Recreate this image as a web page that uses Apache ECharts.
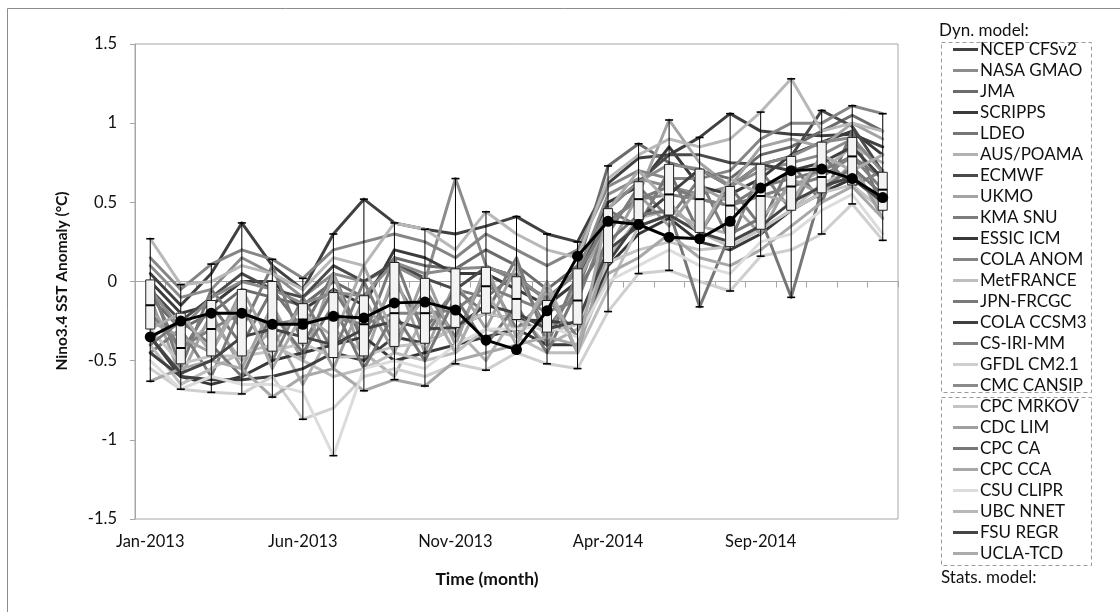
<!DOCTYPE html>
<html>
<head>
<meta charset="utf-8">
<script src="https://cdn.jsdelivr.net/npm/echarts@6/dist/echarts.min.js"></script>
<style>
  html, body { margin: 0; padding: 0; background: #fff; }
  #chart { width: 1120px; height: 612px; }
</style>
</head>
<body>
<div id="chart"></div>
<script>
// ---- categories ----
const months = ['Jan-2013','Feb-2013','Mar-2013','Apr-2013','May-2013','Jun-2013','Jul-2013','Aug-2013',
  'Sep-2013','Oct-2013','Nov-2013','Dec-2013','Jan-2014','Feb-2014','Mar-2014','Apr-2014','May-2014',
  'Jun-2014','Jul-2014','Aug-2014','Sep-2014','Oct-2014','Nov-2014','Dec-2014','Jan-2015'];

// ---- y axis range ----
const yMin = -1.5, yMax = 1.5, yStep = 0.5;

// ---- observed Nino3.4 anomaly (black line with dots) ----
const observed = [-0.35,-0.25,-0.20,-0.20,-0.27,-0.27,-0.22,-0.23,-0.135,-0.13,-0.18,-0.37,-0.43,-0.185,0.16,0.38,0.36,0.28,0.27,0.38,0.59,0.70,0.71,0.65,0.53];

// ---- ensemble spread per month (box & whisker) ----
const boxMin    = [-0.63,-0.68,-0.70,-0.71,-0.73,-0.87,-1.10,-0.69,-0.62,-0.66,-0.52,-0.56,-0.45,-0.52,-0.55,-0.19,0.05,0.07,-0.16,-0.06,0.16,-0.10,0.30,0.49,0.26];
const boxQ1     = [-0.30,-0.52,-0.47,-0.47,-0.44,-0.39,-0.48,-0.47,-0.41,-0.39,-0.29,-0.20,-0.24,-0.32,-0.27,0.12,0.39,0.42,0.31,0.22,0.33,0.45,0.56,0.61,0.45];
const boxMedian = [-0.15,-0.42,-0.30,-0.20,-0.27,-0.24,-0.23,-0.27,-0.20,-0.20,-0.18,-0.03,-0.11,-0.19,-0.12,0.37,0.52,0.55,0.52,0.48,0.54,0.60,0.66,0.79,0.58];
const boxQ3     = [0.01,-0.20,-0.12,-0.05,0.00,-0.14,-0.07,-0.09,0.12,0.02,0.08,0.09,0.03,-0.12,0.08,0.46,0.63,0.74,0.71,0.60,0.74,0.79,0.88,0.91,0.69];
const boxMax    = [0.27,-0.02,0.11,0.37,0.14,0.02,0.30,0.52,0.37,0.33,0.65,0.44,0.41,0.30,0.25,0.73,0.87,1.02,0.91,1.06,1.07,1.28,1.08,1.11,1.06];

// ---- dynamical models ----
const ncepCfsv2  = [0.05,-0.15,0.05,0.37,0.10,-0.05,0.30,0.52,0.37,0.33,0.30,0.35,0.41,0.30,0.25,0.62,0.78,0.80,0.91,1.06,0.95,0.93,0.92,0.93,0.85];
const nasaGmao   = [0.10,-0.10,-0.05,0.15,0.05,-0.10,0.05,0.00,0.10,0.00,0.65,0.10,0.00,-0.10,0.05,0.55,0.65,0.60,0.55,0.60,0.70,0.75,0.80,0.90,0.70];
const jma        = [-0.10,-0.30,-0.20,-0.05,-0.10,-0.15,0.00,-0.10,0.15,0.10,0.08,0.20,0.10,-0.05,0.10,0.73,0.87,0.75,0.70,0.65,0.80,0.85,0.95,1.05,0.95];
const scripps    = [0.00,-0.20,-0.15,0.00,0.00,-0.18,-0.05,-0.15,0.20,0.15,0.05,0.05,-0.05,-0.15,0.00,0.50,0.60,0.85,0.60,0.55,0.65,0.80,0.88,0.95,0.80];
const ldeo       = [-0.05,-0.45,-0.15,-0.40,-0.05,-0.30,0.05,-0.40,0.00,-0.30,-0.05,-0.10,0.05,-0.30,-0.05,0.45,0.35,0.70,0.30,0.60,0.35,0.75,0.50,0.95,0.45];
const ausPoama   = [-0.15,-0.45,-0.25,-0.50,-0.30,-0.65,-0.30,-0.45,-0.60,-0.20,-0.30,-0.50,-0.20,-0.40,-0.30,0.15,0.40,0.45,0.35,0.30,0.40,0.60,0.70,0.85,0.75];
const ecmwf      = [-0.05,-0.25,-0.10,0.05,-0.05,-0.10,0.10,0.00,0.12,0.02,-0.05,0.09,0.03,-0.12,0.08,0.46,0.63,0.80,0.80,0.75,0.74,0.79,1.08,0.98,0.69];
const ukmo       = [-0.10,-0.60,-0.20,-0.55,-0.15,-0.50,0.05,-0.50,0.05,-0.45,0.00,-0.30,0.10,-0.35,0.00,0.35,0.55,1.02,0.75,0.60,0.85,0.90,0.85,1.00,0.90];
const kmaSnu     = [-0.45,-0.30,-0.60,-0.15,-0.50,-0.10,-0.45,0.00,-0.40,-0.05,-0.35,0.05,-0.30,-0.10,-0.35,0.30,0.60,0.40,0.65,0.25,0.70,0.45,0.80,0.60,0.70];
const essicIcm   = [-0.35,-0.60,-0.65,-0.60,-0.50,-0.45,-0.40,-0.35,-0.50,-0.45,-0.40,-0.35,-0.30,-0.40,-0.40,0.10,0.30,0.40,0.25,0.20,0.30,0.45,0.56,0.65,0.50];
const colaAnom   = [0.15,-0.05,0.11,0.20,0.14,0.02,0.20,0.25,0.30,0.25,0.15,0.30,0.20,0.10,0.20,0.60,0.70,0.65,0.65,0.70,0.90,1.00,1.00,1.11,1.06];
const metFrance  = [-0.40,-0.65,-0.55,-0.45,-0.40,-0.50,-0.60,-0.55,-0.45,-0.50,-0.45,-0.30,-0.35,-0.45,-0.45,-0.05,0.35,0.42,0.31,0.22,0.33,0.45,0.62,0.70,0.45];
const jpnFrcgc   = [0.00,-0.55,-0.05,-0.30,0.10,-0.40,-0.05,-0.35,0.15,-0.35,-0.05,-0.20,0.15,-0.40,0.05,0.38,0.52,0.60,0.52,0.48,0.60,0.65,0.70,0.79,0.65];
const colaCcsm3  = [-0.45,-0.60,-0.62,-0.62,-0.60,-0.55,-0.45,-0.50,-0.35,-0.39,-0.29,-0.20,-0.24,-0.25,-0.27,0.12,0.39,0.55,0.71,0.60,0.74,0.70,0.75,0.85,0.65];
const csIriMm    = [-0.20,-0.42,-0.30,-0.20,-0.27,-0.24,-0.23,-0.27,-0.20,-0.20,-0.18,-0.03,-0.11,-0.19,-0.12,0.37,0.52,0.55,0.52,0.48,0.54,0.60,0.66,0.79,0.58];
const gfdlCm21   = [-0.55,-0.68,-0.70,-0.71,-0.60,-0.87,-0.80,-0.60,-0.55,-0.60,-0.52,-0.56,-0.45,-0.52,-0.55,-0.19,0.05,0.07,0.00,-0.06,0.16,0.20,0.30,0.49,0.26];
const cmcCansip  = [-0.05,-0.30,-0.10,0.00,-0.05,-0.14,-0.07,-0.09,0.12,0.05,0.08,0.09,0.03,-0.12,0.08,0.46,0.63,0.74,0.71,0.60,0.74,0.79,0.88,0.91,0.69];

// ---- statistical models ----
const cpcMrkov   = [-0.30,-0.52,-0.47,-0.47,-0.44,-0.39,-0.48,-0.47,-0.41,-0.39,-0.29,-0.20,-0.24,-0.32,-0.27,0.12,0.20,0.25,0.20,0.22,0.33,0.45,0.56,0.61,0.45];
const cdcLim     = [-0.25,-0.35,-0.45,-0.05,-0.40,-0.15,-0.55,-0.10,-0.45,0.05,-0.40,0.10,-0.35,-0.05,-0.45,0.20,0.55,0.35,0.60,0.50,0.30,0.65,0.55,0.75,0.40];
const cpcCa      = [-0.40,-0.25,-0.40,-0.60,-0.20,-0.45,-0.15,-0.55,-0.20,-0.50,-0.10,-0.40,-0.15,-0.45,-0.05,0.25,0.42,0.45,-0.16,0.30,0.40,-0.10,0.58,0.72,0.55];
const cpcCca     = [-0.63,-0.55,-0.50,-0.55,-0.73,-0.60,-0.55,-0.69,-0.62,-0.66,-0.50,-0.45,-0.40,-0.35,-0.40,0.05,0.15,0.30,0.15,0.10,0.20,0.35,0.50,0.60,0.40];
const csuClipr   = [-0.50,-0.68,-0.60,-0.65,-0.65,-0.70,-1.10,-0.55,-0.50,-0.55,-0.40,-0.30,-0.30,-0.28,-0.35,0.00,0.10,0.20,0.10,0.05,0.25,0.30,0.45,0.55,0.30];
const ubcNnet    = [0.27,-0.02,0.00,0.10,0.05,-0.05,0.15,0.10,0.37,0.33,0.20,0.44,0.30,0.20,0.15,0.65,0.80,0.90,0.85,0.90,1.07,1.28,0.95,1.00,0.95];
const fsuRegr    = [-0.35,-0.58,-0.50,-0.35,-0.30,-0.35,-0.40,-0.30,-0.25,-0.30,-0.29,-0.15,-0.20,-0.30,-0.25,0.20,0.35,0.42,0.31,0.25,0.35,0.50,0.60,0.66,0.50];
const uclaTcd    = [-0.30,-0.20,-0.45,-0.10,-0.55,-0.20,-0.35,0.10,-0.35,-0.10,-0.45,-0.05,-0.40,0.00,-0.45,0.45,0.70,0.50,0.30,0.65,0.55,0.50,0.80,0.70,0.80];

const modelNames = ['NCEP CFSv2','NASA GMAO','JMA','SCRIPPS','LDEO','AUS/POAMA','ECMWF','UKMO','KMA SNU',
  'ESSIC ICM','COLA ANOM','MetFRANCE','JPN-FRCGC','COLA CCSM3','CS-IRI-MM','GFDL CM2.1','CMC CANSIP',
  'CPC MRKOV','CDC LIM','CPC CA','CPC CCA','CSU CLIPR','UBC NNET','FSU REGR','UCLA-TCD'];
const modelValues = [ncepCfsv2, nasaGmao, jma, scripps, ldeo, ausPoama, ecmwf, ukmo, kmaSnu,
  essicIcm, colaAnom, metFrance, jpnFrcgc, colaCcsm3, csIriMm, gfdlCm21, cmcCansip,
  cpcMrkov, cdcLim, cpcCa, cpcCca, csuClipr, ubcNnet, fsuRegr, uclaTcd];

// grey shade of each model's line
const modelColors = ['#404040','#8c8c8c','#6b6b6b','#3b3b3b','#767676','#b2b2b2','#4a4a4a','#a3a3a3','#7d7d7d',
  '#383838','#858585','#bdbdbd','#7a7a7a','#404040','#808080','#cfcfcf','#8a8a8a',
  '#c4c4c4','#a0a0a0','#777777','#a8a8a8','#dcdcdc','#b8b8b8','#454545','#ababab'];

const FONT = 'Lato, "Liberation Sans", sans-serif';
const AXIS_GREY = '#a6a6a6';

const boxData = months.map((m, i) => [i, boxMin[i], boxQ1[i], boxMedian[i], boxQ3[i], boxMax[i]]);

const modelSeries = modelNames.map((name, k) => ({
  name: name,
  type: 'line',
  data: modelValues[k],
  symbol: 'none',
  silent: true,
  z: 2,
  color: modelColors[k],
  itemStyle: { color: modelColors[k] },
  lineStyle: { color: modelColors[k], width: 3, cap: 'round', join: 'round' },
  animation: false
}));

// whiskers, box and median drawn at each month through the axis scales
function renderBox(params, api) {
  const i = api.value(0);
  const x = api.coord([i, 0])[0];
  const yLo = api.coord([i, api.value(1)])[1];
  const yQ1 = api.coord([i, api.value(2)])[1];
  const yMed = api.coord([i, api.value(3)])[1];
  const yQ3 = api.coord([i, api.value(4)])[1];
  const yHi = api.coord([i, api.value(5)])[1];
  const hw = 4.5, cw = 4;
  const black = '#000';
  return {
    type: 'group',
    children: [
      { type: 'line', shape: { x1: x, y1: yHi, x2: x, y2: yLo }, style: { stroke: black, lineWidth: 1 } },
      { type: 'line', shape: { x1: x - cw, y1: yHi, x2: x + cw, y2: yHi }, style: { stroke: black, lineWidth: 1.6 } },
      { type: 'line', shape: { x1: x - cw, y1: yLo, x2: x + cw, y2: yLo }, style: { stroke: black, lineWidth: 1.6 } },
      { type: 'rect', shape: { x: x - hw, y: yQ3, width: hw * 2, height: yQ1 - yQ3 },
        style: { fill: '#f3f3f3', stroke: '#222', lineWidth: 1 } },
      { type: 'line', shape: { x1: x - hw, y1: yMed, x2: x + hw, y2: yMed }, style: { stroke: black, lineWidth: 2 } }
    ]
  };
}

const chart = echarts.init(document.getElementById('chart'), null, { renderer: 'canvas' });

chart.setOption({
  animation: false,
  backgroundColor: '#fff',
  textStyle: { fontFamily: FONT },
  grid: {
    left: 135, right: 222, top: 44, bottom: 93,
    show: true, borderColor: AXIS_GREY, borderWidth: 1,
    outerBoundsMode: 'none'
  },
  legend: {
    data: modelNames,
    orient: 'vertical',
    left: 953,
    top: 39,
    padding: 0,
    itemGap: 0,
    itemWidth: 25,
    itemHeight: 3,
    icon: 'rect',
    selectedMode: false,
    textStyle: { fontFamily: FONT, fontSize: 17, color: '#111', lineHeight: 21, padding: [0, 0, 0, -3] }
  },
  xAxis: {
    type: 'category',
    data: months,
    boundaryGap: true,
    axisLine: { show: true, lineStyle: { color: AXIS_GREY, width: 1 } },
    axisTick: { show: true, interval: 0, length: 6, lineStyle: { color: AXIS_GREY } },
    axisLabel: { interval: 4, fontFamily: FONT, fontSize: 16.5, color: '#111', margin: 14 },
    splitLine: { show: false }
  },
  yAxis: {
    type: 'value',
    min: yMin, max: yMax, interval: yStep,
    axisLine: { show: true, lineStyle: { color: AXIS_GREY, width: 1 } },
    axisTick: { show: true, length: 5, lineStyle: { color: AXIS_GREY } },
    axisLabel: { fontFamily: FONT, fontSize: 16.5, color: '#111', margin: 18 },
    splitLine: { show: false }
  },
  graphic: [
    { type: 'polyline', silent: true, shape: { points: [[7.5, 612], [7.5, 8.5], [1120, 8.5]] },
      style: { stroke: '#8c8c8c', lineWidth: 1, fill: null } },
    { type: 'rect', silent: true, shape: { x: 941.5, y: 42.5, width: 150, height: 350 },
      style: { fill: null, stroke: '#9a9a9a', lineWidth: 1, lineDash: [4, 3] } },
    { type: 'rect', silent: true, shape: { x: 941.5, y: 397.5, width: 150, height: 168 },
      style: { fill: null, stroke: '#9a9a9a', lineWidth: 1, lineDash: [4, 3] } },
    { type: 'text', silent: true, x: 939, y: 31,
      style: { text: 'Dyn. model:', font: '17px ' + FONT, fill: '#111',
        textAlign: 'left', textVerticalAlign: 'middle', align: 'left', verticalAlign: 'middle' } },
    { type: 'text', silent: true, x: 941, y: 578,
      style: { text: 'Stats. model:', font: '17px ' + FONT, fill: '#111',
        textAlign: 'left', textVerticalAlign: 'middle', align: 'left', verticalAlign: 'middle' } },
    { type: 'text', silent: true, x: 487, y: 579,
      style: { text: 'Time (month)', font: 'bold 17.5px ' + FONT, fill: '#111',
        textAlign: 'center', textVerticalAlign: 'middle', align: 'center', verticalAlign: 'middle' } },
    { type: 'text', silent: true, x: 62, y: 281, rotation: Math.PI / 2,
      style: { text: 'Nino3.4 SST Anomaly (°C)', font: 'bold 15.5px ' + FONT, fill: '#111',
        textAlign: 'center', textVerticalAlign: 'middle', align: 'center', verticalAlign: 'middle' } }
  ],
  series: modelSeries.concat([
    {
      name: 'spread',
      type: 'custom',
      data: boxData,
      renderItem: renderBox,
      encode: { x: 0, y: [1, 2, 3, 4, 5] },
      silent: true,
      z: 4
    },
    {
      name: 'Observed',
      type: 'line',
      data: observed,
      symbol: 'circle',
      symbolSize: 11,
      silent: true,
      z: 6,
      itemStyle: { color: '#000' },
      lineStyle: { color: '#000', width: 3 }
    }
  ])
});
</script>
</body>
</html>
